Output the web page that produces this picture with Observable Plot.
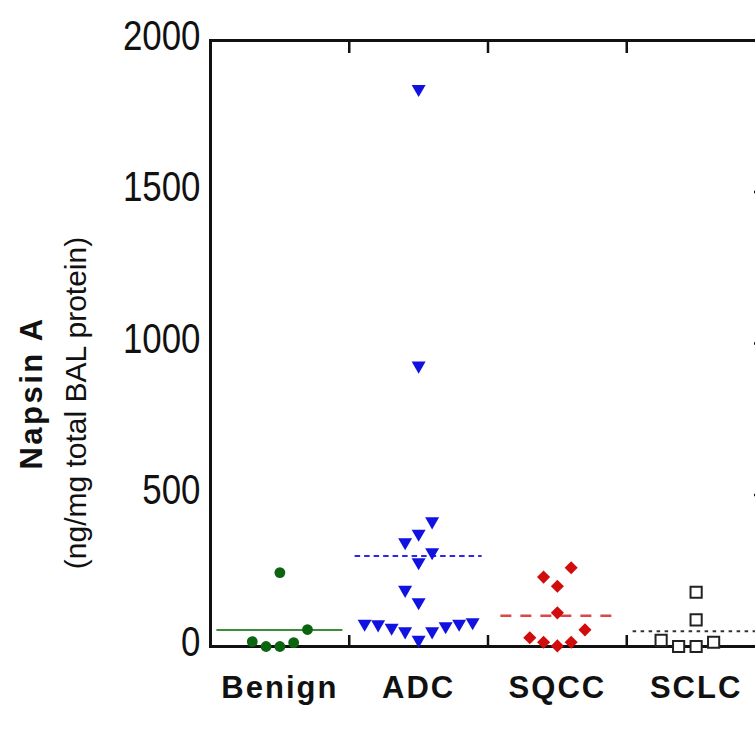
<!DOCTYPE html>
<html><head><meta charset="utf-8">
<script src="https://cdn.jsdelivr.net/npm/d3@7"></script>
<script src="https://cdn.jsdelivr.net/npm/@observablehq/plot@0.6"></script>
<style>body{margin:0;background:#fff;overflow:hidden}</style>
</head><body><div id="chart"></div>
<script>
// ---- data ----
const categories = ["Benign", "ADC", "SQCC", "SCLC"];
const benign = [244, 56, 16, 0, 0, 13];
const adc = [1840, 927, 413, 372, 344, 311, 278, 187, 146, 75, 75, 62, 50, 22, 50, 67, 73, 80];
const sqcc = [260, 229, 199, 111, 55, 29, 14, 2, 14];
const sclc = [179, 88, 20, 0, 0, 14];
const yTicks = [0, 500, 1000, 1500, 2000];
const yTitle = "Napsin A";
const ySubtitle = "(ng/mg total BAL protein)";

// ---- styles ----
const series = [benign, adc, sqcc, sclc];
const styles = [
  {symbol: "circle", r: 5.4, fill: "#0b6510", stroke: "none", sw: 0, rotate: 0, step: 13.8, line: "#3b8d3b", dash: null, half: 63, lw: 2},
  {symbol: "triangle", r: 5.2, fill: "#1212e0", stroke: "none", sw: 0, rotate: 180, step: 13.5, line: "#2a2ae6", dash: "5.5,4", half: 63.5, lw: 2},
  {symbol: "diamond2", r: 5.9, fill: "#d00c0c", stroke: "none", sw: 0, rotate: 0, step: 13.8, line: "#dc4646", dash: "11,9", half: 56.5, lw: 2.5},
  {symbol: "square", r: 6.3, fill: "#fff", stroke: "#222", sw: 2, rotate: 0, step: 17.5, line: "#333", dash: "3.5,4.5", half: 63, lw: 2}
];

const W = 755, H = 733, mL = 210, mR = -10, mT = 40, mB = 87;
const xs = Plot.scale({x: {domain: [0, 4], range: [mL, W - mR]}});
const ys = Plot.scale({y: {domain: [0, 2000], range: [H - mB, mT]}});

// column arrangement (scatter columns, ascending, centre-out)
const T = 21;
const points = [];
series.forEach((vals, gi) => {
  const st = styles[gi];
  const cx = xs.apply(gi + 0.5);
  const placed = [];
  const order = vals.map((v, i) => i).sort((a, b) => vals[a] - vals[b]);
  for (const i of order) {
    const py = ys.apply(vals[i]);
    let k = 0;
    for (let n = 0; n < 50; n++) {
      const cands = n === 0 ? [0] : [-n, n];
      const free = cands.filter(c => !placed.some(p => p.k === c && Math.abs(p.py - py) < T));
      if (free.length) {
        const count = c => placed.filter(p => p.k === c).length;
        free.sort((a, b) => count(a) - count(b) || a - b);
        k = free[0];
        break;
      }
    }
    placed.push({py, k});
    points.push({gi, group: categories[gi], value: vals[i], x: xs.invert(cx + k * st.step)});
  }
});

const frameStyle = {stroke: "#111", strokeWidth: 3};
const marks = [
  Plot.frame({anchor: "left", ...frameStyle}),
  Plot.frame({anchor: "top", ...frameStyle}),
  Plot.frame({anchor: "bottom", ...frameStyle}),
  Plot.axisY({anchor: "left", ticks: yTicks, tickSize: 0, tickPadding: 10, tickFormat: d => String(d),
    fontSize: 42, fontFamily: "'Liberation Sans', Arial, sans-serif", dy: -4, fill: "#111"}),
  Plot.axisY({anchor: "right", ticks: yTicks.slice(1, -1), tickSize: -12, tickFormat: () => "", strokeWidth: 2.5, stroke: "#111"}),
  Plot.axisX({anchor: "bottom", ticks: [1, 2, 3], tickSize: -11, tickFormat: () => "", strokeWidth: 2.5, stroke: "#111"}),
  Plot.axisX({anchor: "top", ticks: [1, 2, 3], tickSize: -12, tickFormat: () => "", strokeWidth: 2.5, stroke: "#111"}),
  Plot.axisX({anchor: "bottom", ticks: categories.map((c, i) => i + 0.5), tickFormat: d => categories[Math.floor(d)],
    tickSize: 0, tickPadding: 29, fontSize: 31, fontWeight: "bold", fontFamily: "'Liberation Sans', Arial, sans-serif", fill: "#111"})
];

series.forEach((vals, gi) => {
  const st = styles[gi];
  const cx = xs.apply(gi + 0.5);
  const m = d3.mean(vals);
  const x1 = xs.invert(cx - st.half), x2 = xs.invert(cx + st.half);
  marks.push(Plot.ruleY([m], {y: d => d, x1: () => x1, x2: () => x2, stroke: st.line, strokeWidth: st.lw,
    strokeDasharray: st.dash || undefined}));
});
series.forEach((vals, gi) => {
  const st = styles[gi];
  marks.push(Plot.dot(points.filter(p => p.gi === gi), {x: "x", y: "value", symbol: st.symbol, r: st.r,
    fill: st.fill, stroke: st.stroke, strokeWidth: st.sw, rotate: st.rotate}));
});

const svg = Plot.plot({
  width: W, height: H,
  marginLeft: mL, marginRight: mR, marginTop: mT, marginBottom: mB,
  x: {domain: [0, 4], label: null},
  y: {domain: [0, 2000], label: null},
  style: {background: "#fff", overflow: "hidden"},
  marks
});

const s = d3.select(svg);
s.selectAll("g[aria-label='x-axis tick label'] text").attr("letter-spacing", 2);
s.append("text").attr("transform", "translate(42,393) rotate(-90)").attr("text-anchor", "middle")
  .attr("font-family", "'Liberation Sans', Arial, sans-serif").attr("font-size", 31).attr("font-weight", "bold")
  .attr("letter-spacing", 2.5).attr("fill", "#111").text(yTitle);
s.append("text").attr("transform", "translate(86,403) rotate(-90)").attr("text-anchor", "middle")
  .attr("font-family", "'Liberation Sans', Arial, sans-serif").attr("font-size", 30)
  .attr("fill", "#111").text(ySubtitle);

document.getElementById("chart").append(svg);

// condensed digits for the y tick labels
s.selectAll("g[aria-label='y-axis tick label'] text").each(function () {
  const len = this.getComputedTextLength();
  if (len > 0) {
    this.setAttribute("textLength", (len * 0.83).toFixed(1));
    this.setAttribute("lengthAdjust", "spacingAndGlyphs");
  }
});
</script>
</body></html>
